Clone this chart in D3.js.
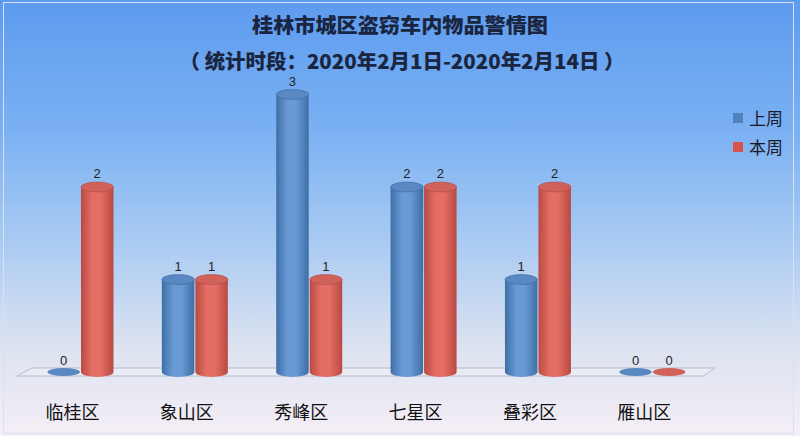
<!DOCTYPE html>
<html><head><meta charset="utf-8">
<script src="https://cdn.jsdelivr.net/npm/d3@7/dist/d3.min.js"></script>
<style>body{margin:0;}svg{display:block;}</style>
</head><body>
<script>
const categories = ["临桂区","象山区","秀峰区","七星区","叠彩区","雁山区"];
const seriesNames = ["上周","本周"];
const lastWeek = [0,1,3,2,1,0];
const thisWeek = [2,1,1,2,2,0];
const title = "桂林市城区盗窃车内物品警情图";
const subtitle = "（ 统计时段：2020年2月1日-2020年2月14日 ）";

const W=800,H=436;
const svg=d3.select("body").append("svg").attr("width",W).attr("height",H);
const defs=svg.append("defs");
const bg=defs.append("linearGradient").attr("id","bg").attr("x1",0).attr("y1",0).attr("x2",0).attr("y2",1);
[[0,"#5d9bef"],[0.3,"#7bb1f3"],[0.55,"#a8caf2"],[0.8,"#dde3f1"],[1,"#f5eef6"]].forEach(s=>bg.append("stop").attr("offset",s[0]).attr("stop-color",s[1]));
svg.append("rect").attr("width",W).attr("height",H).attr("fill","url(#bg)");
svg.append("rect").attr("x",3.5).attr("y",2.5).attr("width",790).attr("height",431).attr("fill","none").attr("stroke","#d6e2f2").attr("stroke-width",1);

const colors=[{side:"#3d6fa6",mid:"#6a9ad6",top:"#5a88c2",dark:"#365f90"},{side:"#b84a43",mid:"#e46e64",top:"#d0625a",dark:"#a8423c"}];
colors.forEach((c,i)=>{
  const g=defs.append("linearGradient").attr("id","cyl"+i).attr("x1",0).attr("x2",1).attr("y1",0).attr("y2",0);
  g.append("stop").attr("offset",0).attr("stop-color",c.side);
  g.append("stop").attr("offset",0.35).attr("stop-color",c.mid);
  g.append("stop").attr("offset",0.6).attr("stop-color",c.mid);
  g.append("stop").attr("offset",1).attr("stop-color",c.side);
});

// title
svg.append("text").attr("x",400).attr("y",33).attr("text-anchor","middle")
  .attr("font-family","Noto Sans CJK SC").attr("font-weight","900").attr("font-size",20)
  .attr("textLength",296).attr("lengthAdjust","spacingAndGlyphs").attr("fill","#1a2540").text(title);
svg.append("text").attr("x",402).attr("y",69).attr("text-anchor","middle")
  .attr("font-family","Noto Sans CJK SC").attr("font-weight","900").attr("font-size",20)
  .attr("textLength",445).attr("lengthAdjust","spacingAndGlyphs").attr("fill","#1a2540").text(subtitle);

const x=d3.scaleBand().domain(categories).range([23.3,709.5]).paddingInner(0).paddingOuter(0);
const xs=d3.scaleBand().domain(seriesNames).range([0,67]);
const xOff=(x.bandwidth()-67)/2;
const y=d3.scaleLinear().domain([0,3]).range([372,94.5]);

// floor
svg.append("path").attr("d",`M32,368 L715,368 L703,376 L17,376 Z`)
  .attr("fill","#eef0f7").attr("fill-opacity",0.6).attr("stroke","#b8bcc6").attr("stroke-width",1);

const data=[];
categories.forEach((c,i)=>{
  [lastWeek,thisWeek].forEach((arr,s)=>data.push({cat:c,s,v:arr[i]}));
});
const ry=5;
const g=svg.append("g");
data.forEach(d=>{
  const bw=xs.bandwidth();
  const cx=x(d.cat)+xOff+xs(seriesNames[d.s])+bw/2;
  const rx=bw/2-0.5;
  const yb=y(0), yt=y(d.v);
  const c=colors[d.s];
  if(d.v===0){
    g.append("ellipse").attr("cx",cx).attr("cy",yb).attr("rx",rx).attr("ry",4).attr("fill",c.top);
  } else {
    g.append("path").attr("d",`M${cx-rx},${yt} L${cx-rx},${yb} A${rx},${ry} 0 0 0 ${cx+rx},${yb} L${cx+rx},${yt} Z`)
      .attr("fill",`url(#cyl${d.s})`);
    g.append("ellipse").attr("cx",cx).attr("cy",yt).attr("rx",rx).attr("ry",ry).attr("fill",c.top).attr("stroke",c.dark).attr("stroke-width",0.5);
  }
  g.append("text").attr("x",cx).attr("y",yt-(d.v===0?7:9)).attr("text-anchor","middle")
    .attr("font-family","Liberation Sans").attr("font-size",13).attr("fill","#222").text(d.v);
});

// category labels
categories.forEach(c=>{
  svg.append("text").attr("x",x(c)+x.bandwidth()/2-8).attr("y",419).attr("text-anchor","middle")
    .attr("font-family","Noto Sans CJK SC").attr("font-size",18).attr("fill","#111").text(c);
});

// legend
seriesNames.forEach((n,i)=>{
  const ly=118+i*29;
  svg.append("rect").attr("x",733).attr("y",ly-5).attr("width",10).attr("height",10).attr("fill",i===0?"#4f81bd":"#d9534a");
  svg.append("text").attr("x",749).attr("y",ly+7).attr("font-family","Noto Sans CJK SC").attr("font-size",17).attr("fill","#1a1a2a").text(n);
});
</script>
</body></html>
